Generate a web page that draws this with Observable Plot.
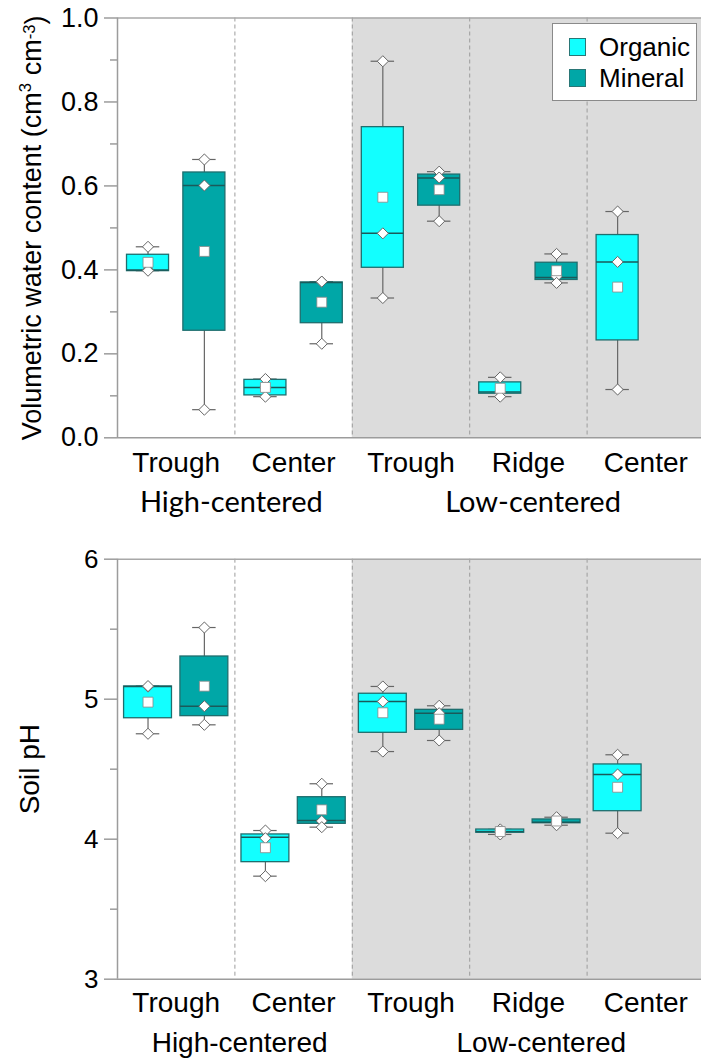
<!DOCTYPE html>
<html>
<head>
<meta charset="utf-8">
<script src="https://cdn.jsdelivr.net/npm/d3@7"></script>
<script src="https://cdn.jsdelivr.net/npm/@observablehq/plot@0.6"></script>
<style>
  body { margin: 0; background: #fff; }
  #wrap { position: relative; width: 701px; height: 1059px; overflow: hidden; background: #fff;
          font-family: "Liberation Sans", Arial, sans-serif; }
  #top, #bottom { position: absolute; left: 0; }
  #top { top: 0; }
  #bottom { top: 530px; }
  .legend { position: absolute; left: 552px; top: 23px; width: 143px; height: 76px;
            border: 1.5px solid #8a8a8a; background: #fff; }
  .legend .item { position: absolute; left: 16px; height: 30px; display: flex; align-items: center; }
  .legend .sw { width: 15px; height: 16px; border: 1px solid #2a7676; margin-right: 13px; }
  .legend .lab { font-size: 26px; color: #000; line-height: 30px; }
</style>
</head>
<body>
<div id="wrap">
  <div id="top"></div>
  <div id="bottom"></div>
  <div class="legend" id="legend"></div>
</div>
<script>
// ---------------- data ----------------
const categories = ["Trough", "Center", "Trough", "Ridge", "Center"];
const groups = ["High-centered", "Low-centered"];
const groupFirstCat = [0, 2];
const groupLastCat = [2, 5];
const series = ["Organic", "Mineral"];
const seriesColors = ["#12FFFF", "#00A7A7"];

const boxCategory = [0, 0, 1, 1, 2, 2, 3, 3, 4];
const boxSeries = ["Organic", "Mineral", "Organic", "Mineral", "Organic", "Mineral", "Organic", "Mineral", "Organic"];

// Volumetric water content (cm3 cm-3)
const vwcQ1     = [0.397, 0.255, 0.101, 0.273, 0.405, 0.553, 0.105, 0.376, 0.232];
const vwcMedian = [0.400, 0.601, 0.120, 0.370, 0.487, 0.619, 0.109, 0.382, 0.419];
const vwcQ3     = [0.436, 0.632, 0.138, 0.370, 0.740, 0.627, 0.132, 0.417, 0.483];
const vwcMean   = [0.418, 0.444, 0.120, 0.323, 0.573, 0.591, 0.118, 0.398, 0.359];
const vwcPoints = [
  [0.455, 0.400, 0.398], [0.663, 0.601, 0.067], [0.140, 0.120, 0.098],
  [0.372, 0.372, 0.224], [0.897, 0.487, 0.333], [0.634, 0.620, 0.516],
  [0.144, 0.109, 0.098], [0.438, 0.384, 0.369], [0.539, 0.419, 0.115]
];
const vwcMajorTicks = [0, 0.2, 0.4, 0.6, 0.8, 1.0];
const vwcMinorTicks = [0.1, 0.3, 0.5, 0.7, 0.9];

// Soil pH
const phQ1     = [4.864, 4.879, 3.836, 4.110, 4.760, 4.781, 4.046, 4.114, 4.200];
const phMedian = [5.090, 4.950, 4.014, 4.134, 4.984, 4.900, 4.055, 4.121, 4.462];
const phQ3     = [5.091, 5.305, 4.034, 4.300, 5.039, 4.924, 4.069, 4.141, 4.534];
const phMean   = [4.979, 5.093, 3.939, 4.210, 4.903, 4.857, 4.055, 4.130, 4.371];
const phPoints = [
  [5.090, 5.094, 4.753], [5.512, 4.950, 4.817], [4.062, 4.007, 3.736],
  [4.396, 4.130, 4.086], [5.091, 4.984, 4.626], [4.953, 4.900, 4.705],
  [4.070, 4.055, 4.034], [4.157, 4.121, 4.100], [4.603, 4.462, 4.043]
];
const phMajorTicks = [3, 4, 5, 6];
const phMinorTicks = [3.5, 4.5, 5.5];

// ---------------- helpers ----------------
const SERIES_OFFSET = 0.24;  // offset of each series inside its category band

function buildBoxes(q1, med, q3, mean, pts) {
  return boxCategory.map((c, i) => ({
    series: boxSeries[i],
    x: c + 0.5 + (boxSeries[i] === "Organic" ? -SERIES_OFFSET : SERIES_OFFSET),
    q1: q1[i], median: med[i], q3: q3[i], mean: mean[i],
    min: d3.min(pts[i]), max: d3.max(pts[i]), pts: pts[i]
  }));
}

const axisColor = "#9c9c9c";
const boxStroke = "#1f6e6e";
const markStroke = "#666";

function panel(o) {
  const boxes = buildBoxes(o.q1, o.median, o.q3, o.mean, o.points);
  const pts = boxes.flatMap(b => b.pts.map(v => ({x: b.x, v})));
  const caps = boxes.flatMap(b => [{x: b.x, v: b.min}, {x: b.x, v: b.max}]);
  const h = o.boxHalf, c = 0.1;
  const grp = groups.map((g, i) => ({g, x: (groupFirstCat[i] + groupLastCat[i]) / 2 + o.groupDx[i]}));
  const svg = Plot.plot({
    width: 701, height: o.height,
    marginLeft: 117, marginRight: 0, marginTop: o.marginTop, marginBottom: o.marginBottom,
    style: {fontFamily: '"Liberation Sans", Arial, sans-serif', background: "white", overflow: "visible", color: "#000"},
    x: {type: "linear", domain: [0, 5], range: [117, 704]},
    y: {domain: o.yDomain},
    color: {domain: series, range: seriesColors},
    marks: [
      Plot.rect([{x1: 2, x2: 5}], {x1: "x1", x2: "x2", fill: "#dcdcdc"}),
      Plot.ruleX([1, 2, 3, 4], {stroke: axisColor, strokeDasharray: "4,3", strokeWidth: 1}),
      Plot.ruleY([o.yDomain[1]], {stroke: "#a8a8a8", strokeWidth: 1.5}),
      Plot.ruleY([o.yDomain[0]], {stroke: axisColor, strokeWidth: 1.5}),
      Plot.ruleX([0], {stroke: axisColor, strokeWidth: 1.5}),
      Plot.axisY({ticks: o.majorTicks, tickSize: 13, tickPadding: 6, tickFormat: o.tickFormat,
                  fontSize: o.tickFont, stroke: axisColor, strokeWidth: 1.5, label: null}),
      Plot.axisY({ticks: o.minorTicks, tickSize: 7, tickFormat: () => "", stroke: axisColor, strokeWidth: 1.5, label: null}),
      Plot.axisY({ticks: [], tickSize: 0, label: o.label, labelAnchor: "center", labelArrow: "none",
                  labelOffset: o.labelOffset, fontSize: o.labelFont}),
      Plot.axisX({ticks: [0.5, 1.5, 2.5, 3.5, 4.5], tickFormat: d => categories[Math.floor(d)],
                  tickSize: 0, tickPadding: o.catPad, fontSize: 28, label: null}),
      Plot.text(grp, {x: "x", text: "g", frameAnchor: "bottom", lineAnchor: "top", dy: o.groupDy,
                      fontSize: o.groupFont, fontFamily: o.groupFamily, fill: "#000"}),
      Plot.ruleX(boxes, {x: "x", y1: "min", y2: "max", stroke: markStroke, strokeWidth: 1.2}),
      Plot.ruleY(caps, {x1: d => d.x - c, x2: d => d.x + c, y: "v", stroke: markStroke, strokeWidth: 1.2}),
      Plot.rect(boxes, {x1: d => d.x - h, x2: d => d.x + h, y1: "q1", y2: "q3", fill: "series",
                        stroke: boxStroke, strokeWidth: 1.3}),
      Plot.ruleY(boxes, {x1: d => d.x - h, x2: d => d.x + h, y: "median", stroke: "#1a5a5a", strokeWidth: 1.5}),
      Plot.dot(pts, {x: "x", y: "v", symbol: "diamond2", r: 5, fill: "white", stroke: markStroke, strokeWidth: 1}),
      Plot.dot(boxes, {x: "x", y: "mean", symbol: "square", r: 5.6, fill: "white", stroke: "#888", strokeWidth: 0.8})
    ]
  });
  return svg;
}

// ---------------- top panel ----------------
const topSvg = panel({
  height: 530, marginTop: 17.5, marginBottom: 92.7,
  yDomain: [0, 1.0], majorTicks: vwcMajorTicks, minorTicks: vwcMinorTicks,
  tickFormat: d3.format(".1f"), tickFont: 27,
  q1: vwcQ1, median: vwcMedian, q3: vwcQ3, mean: vwcMean, points: vwcPoints,
  boxHalf: 0.179, label: "Volumetric water content (cm3 cm-3)", labelOffset: 96, labelFont: 27,
  catPad: 14, groupDy: 54, groupFont: 29, groupFamily: "Lato, 'Open Sans', sans-serif", groupDx: [-0.03, 0.04]
});
document.getElementById("top").appendChild(topSvg);

// superscripts in the y label
{
  const t = topSvg.querySelector('g[aria-label="y-axis label"] text');
  if (t) {
    const sel = d3.select(t);
    sel.text("");
    sel.append("tspan").text("Volumetric water content (cm");
    sel.append("tspan").attr("dy", "-0.55em").attr("font-size", "0.62em").text("3");
    sel.append("tspan").attr("dy", "0.34em").text(" cm");
    sel.append("tspan").attr("dy", "-0.34em").attr("font-size", "0.62em").text("-3");
    sel.append("tspan").attr("dy", "0.34em").text(")");
  }
}

// ---------------- bottom panel ----------------
const botSvg = panel({
  height: 529, marginTop: 28.7, marginBottom: 80.3,
  yDomain: [3, 6], majorTicks: phMajorTicks, minorTicks: phMinorTicks,
  tickFormat: d3.format("d"), tickFont: 26,
  q1: phQ1, median: phMedian, q3: phQ3, mean: phMean, points: phPoints,
  boxHalf: 0.204, label: "Soil pH", labelOffset: 98, labelFont: 28,
  catPad: 13, groupDy: 53, groupFont: 28, groupFamily: '"Liberation Sans", Arial, sans-serif', groupDx: [0.04, 0.11]
});
document.getElementById("bottom").appendChild(botSvg);

// ---------------- legend ----------------
{
  const lg = d3.select("#legend");
  series.forEach((s, i) => {
    const it = lg.append("div").attr("class", "item").style("top", (8 + i * 31) + "px");
    it.append("div").attr("class", "sw").style("background", seriesColors[i]);
    it.append("div").attr("class", "lab").text(s);
  });
}
</script>
</body>
</html>
